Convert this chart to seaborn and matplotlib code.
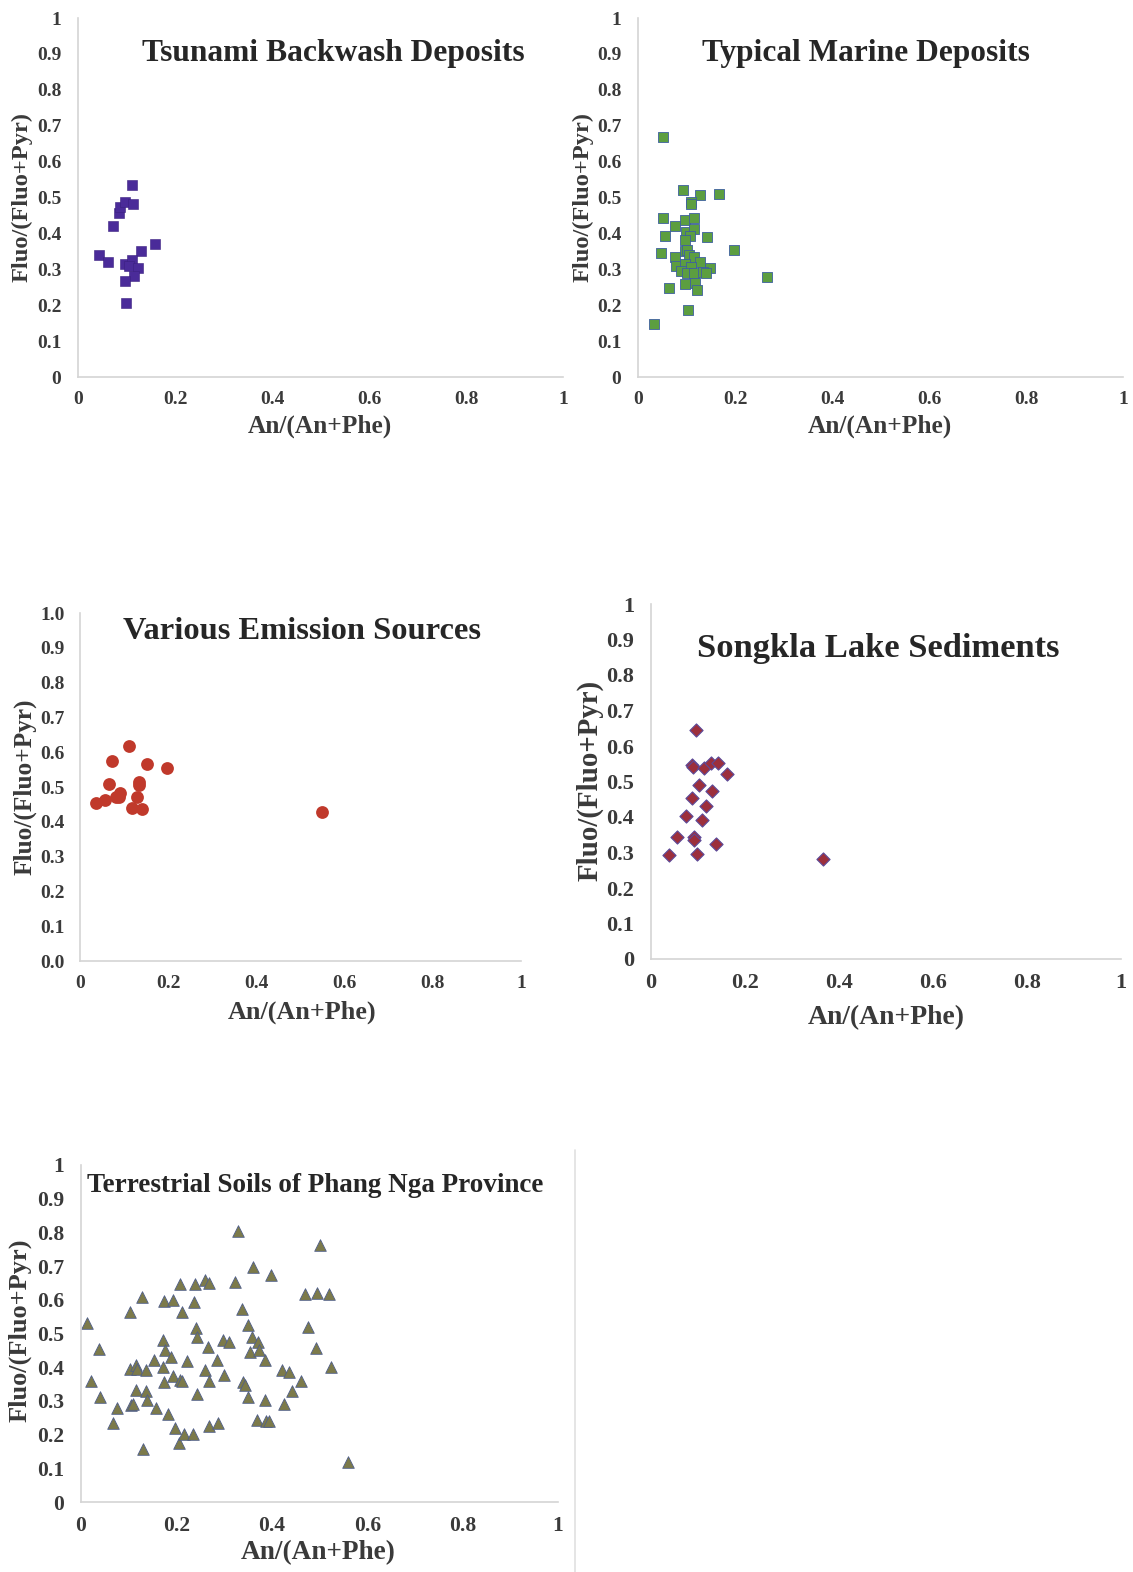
import matplotlib
matplotlib.use("Agg")
import matplotlib.pyplot as plt
import seaborn as sns
from matplotlib.lines import Line2D

sns.set_style("white")
plt.rcParams["font.family"] = ["Liberation Serif", "DejaVu Serif"]
plt.rcParams["font.weight"] = "bold"

# --- data ---
tsunami_x = [0.043, 0.062, 0.072, 0.085, 0.087, 0.097, 0.112, 0.114, 0.158, 0.130,
             0.097, 0.111, 0.105, 0.123, 0.116, 0.096, 0.099]
tsunami_y = [0.341, 0.320, 0.422, 0.457, 0.474, 0.487, 0.534, 0.482, 0.370, 0.352,
             0.315, 0.327, 0.308, 0.304, 0.282, 0.268, 0.206]

marine_x = [0.052, 0.092, 0.127, 0.166, 0.110, 0.109, 0.051, 0.096, 0.116, 0.076,
            0.098, 0.116, 0.107, 0.056, 0.096, 0.143, 0.047, 0.198, 0.096, 0.102,
            0.076, 0.105, 0.116, 0.128, 0.078, 0.096, 0.109, 0.148, 0.088, 0.102,
            0.116, 0.133, 0.140, 0.265, 0.064, 0.097, 0.118, 0.121, 0.103, 0.032]
marine_y = [0.669, 0.521, 0.507, 0.510, 0.488, 0.481, 0.444, 0.436, 0.444, 0.421,
            0.405, 0.413, 0.394, 0.394, 0.382, 0.391, 0.346, 0.354, 0.350, 0.354,
            0.333, 0.340, 0.333, 0.319, 0.309, 0.316, 0.307, 0.305, 0.295, 0.291,
            0.291, 0.293, 0.291, 0.279, 0.248, 0.260, 0.262, 0.242, 0.187, 0.149]

emission_x = [0.036, 0.057, 0.072, 0.066, 0.081, 0.090, 0.089, 0.110, 0.151, 0.198,
              0.134, 0.134, 0.129, 0.119, 0.140, 0.548]
emission_y = [0.455, 0.463, 0.574, 0.510, 0.472, 0.482, 0.472, 0.618, 0.566, 0.556,
              0.515, 0.505, 0.470, 0.439, 0.436, 0.427]

songkla_x = [0.095, 0.088, 0.090, 0.113, 0.127, 0.142, 0.161, 0.102, 0.129, 0.088,
             0.118, 0.074, 0.109, 0.056, 0.091, 0.092, 0.138, 0.038, 0.098, 0.365]
songkla_y = [0.646, 0.546, 0.540, 0.537, 0.553, 0.551, 0.522, 0.490, 0.473, 0.453,
             0.430, 0.403, 0.392, 0.345, 0.345, 0.334, 0.325, 0.292, 0.296, 0.282]

soils_x = [0.012, 0.021, 0.038, 0.040, 0.068, 0.075, 0.102, 0.102, 0.105, 0.110,
           0.116, 0.116, 0.117, 0.128, 0.131, 0.136, 0.136, 0.138, 0.153, 0.157,
           0.171, 0.171, 0.173, 0.173, 0.176, 0.182, 0.188, 0.192, 0.192, 0.197,
           0.206, 0.208, 0.208, 0.211, 0.211, 0.216, 0.223, 0.234, 0.236, 0.238,
           0.241, 0.243, 0.244, 0.261, 0.268, 0.267, 0.261, 0.268, 0.268, 0.288,
           0.285, 0.297, 0.311, 0.300, 0.323, 0.330, 0.338, 0.340, 0.344, 0.351,
           0.351, 0.354, 0.361, 0.358, 0.372, 0.374, 0.370, 0.386, 0.386, 0.387,
           0.395, 0.398, 0.421, 0.426, 0.437, 0.443, 0.461, 0.502, 0.470, 0.494,
           0.520, 0.476, 0.492, 0.525, 0.560]
soils_y = [0.532, 0.359, 0.453, 0.312, 0.233, 0.280, 0.564, 0.396, 0.287, 0.292,
           0.406, 0.332, 0.396, 0.609, 0.158, 0.393, 0.330, 0.304, 0.421, 0.280,
           0.401, 0.480, 0.597, 0.356, 0.450, 0.262, 0.431, 0.599, 0.374, 0.221,
           0.175, 0.646, 0.361, 0.564, 0.359, 0.201, 0.419, 0.203, 0.594, 0.646,
           0.515, 0.490, 0.320, 0.658, 0.649, 0.460, 0.393, 0.359, 0.225, 0.233,
           0.421, 0.480, 0.475, 0.376, 0.653, 0.805, 0.574, 0.356, 0.347, 0.525,
           0.312, 0.446, 0.698, 0.490, 0.475, 0.450, 0.243, 0.302, 0.421, 0.241,
           0.241, 0.673, 0.393, 0.292, 0.386, 0.330, 0.359, 0.762, 0.617, 0.621,
           0.617, 0.518, 0.457, 0.401, 0.119]

ticks = [0, 0.1, 0.2, 0.3, 0.4, 0.5, 0.6, 0.7, 0.8, 0.9, 1.0]
y_labels = ["0", "0.1", "0.2", "0.3", "0.4", "0.5", "0.6", "0.7", "0.8", "0.9", "1"]
y_labels_dec = ["0.0", "0.1", "0.2", "0.3", "0.4", "0.5", "0.6", "0.7", "0.8", "0.9", "1.0"]
x_ticks = [0, 0.2, 0.4, 0.6, 0.8, 1.0]
x_labels = ["0", "0.2", "0.4", "0.6", "0.8", "1"]

W, H = 1133, 1572
fig = plt.figure(figsize=(W / 100, H / 100), dpi=100)


def fx(x):
    return x / W


def fy(y):
    return 1 - y / H


def panel(left, top, w, h, ylabels, tick_fs, yticks_marks=False):
    ax = fig.add_axes([left / W, 1 - (top + h) / H, w / W, h / H])
    ax.set_xlim(0, 1)
    ax.set_ylim(0, 1)
    for s in ["top", "right"]:
        ax.spines[s].set_visible(False)
    for s in ["left", "bottom"]:
        ax.spines[s].set_color("#d4d4d4")
        ax.spines[s].set_linewidth(1.2)
    ax.set_xticks(x_ticks)
    ax.set_xticklabels(x_labels, fontsize=tick_fs, fontweight="bold", color="#3a3a3a")
    ax.set_yticks(ticks)
    ax.set_yticklabels(ylabels, fontsize=tick_fs, fontweight="bold", color="#3a3a3a")
    ax.tick_params(axis="x", length=0, pad=10)
    if yticks_marks:
        ax.tick_params(axis="y", length=5, color="#d4d4d4", width=1.2, pad=6)
    else:
        ax.tick_params(axis="y", length=0, pad=12)
    ax.set_xlabel("")
    ax.set_ylabel("")
    return ax


# panel 1
ax1 = panel(78, 18, 485, 359, y_labels, 14)
sns.scatterplot(x=tsunami_x, y=tsunami_y, ax=ax1, marker="s", s=50,
                color="#4a2b99", edgecolor="#3a2080", linewidth=0.4, legend=False)
ax1.set_xlim(0, 1); ax1.set_ylim(0, 1)

# panel 2
ax2 = panel(638, 18, 485, 359, y_labels, 14)
sns.scatterplot(x=marine_x, y=marine_y, ax=ax2, marker="s", s=50,
                color="#5c9e40", edgecolor="#3d5fa0", linewidth=0.6, legend=False)
ax2.set_xlim(0, 1); ax2.set_ylim(0, 1)

# panel 3
ax3 = panel(80, 613, 441, 348, y_labels_dec, 14, yticks_marks=True)
sns.scatterplot(x=emission_x, y=emission_y, ax=ax3, marker="o", s=85,
                color="#c0392b", edgecolor="#c0392b", linewidth=0, legend=False)
ax3.set_xlim(0, 1); ax3.set_ylim(0, 1)

# panel 4
ax4 = panel(651, 604, 470, 355, y_labels, 16)
sns.scatterplot(x=songkla_x, y=songkla_y, ax=ax4, marker="D", s=45,
                color="#9c2f3c", edgecolor="#5b4a9a", linewidth=0.8, legend=False)
ax4.set_xlim(0, 1); ax4.set_ylim(0, 1)

# panel 5
ax5 = panel(81, 1165, 477, 337, y_labels, 15.5)
sns.scatterplot(x=soils_x, y=soils_y, ax=ax5, marker="^", s=70,
                color="#7c7a4a", edgecolor="#4f5e8a", linewidth=0.6, legend=False)
ax5.set_xlim(0, 1); ax5.set_ylim(0, 1)

# titles
fig.text(fx(333), fy(53), "Tsunami Backwash Deposits", fontsize=22.7, fontweight="bold",
         ha="center", va="center")
fig.text(fx(866), fy(53), "Typical Marine Deposits", fontsize=22.6, fontweight="bold",
         ha="center", va="center")
fig.text(fx(302), fy(631), "Various Emission Sources", fontsize=23.4, fontweight="bold",
         ha="center", va="center")
fig.text(fx(878), fy(649), "Songkla Lake Sediments", fontsize=24.8, fontweight="bold",
         ha="center", va="center")
fig.text(fx(315), fy(1186), "Terrestrial Soils of Phang Nga Province", fontsize=19.5,
         fontweight="bold", ha="center", va="center")

# axis labels
lab = dict(fontweight="bold", color="#3a3a3a", ha="center", va="center")
fig.text(fx(22), fy(197), "Fluo/(Fluo+Pyr)", rotation=90, fontsize=17.6, **lab)
fig.text(fx(583), fy(197), "Fluo/(Fluo+Pyr)", rotation=90, fontsize=17.6, **lab)
fig.text(fx(25), fy(787), "Fluo/(Fluo+Pyr)", rotation=90, fontsize=18.2, **lab)
fig.text(fx(590), fy(780), "Fluo/(Fluo+Pyr)", rotation=90, fontsize=20.8, **lab)
fig.text(fx(20), fy(1330), "Fluo/(Fluo+Pyr)", rotation=90, fontsize=19, **lab)

fig.text(fx(320), fy(426), "An/(An+Phe)", fontsize=18.3, **lab)
fig.text(fx(880), fy(426), "An/(An+Phe)", fontsize=18.3, **lab)
fig.text(fx(302), fy(1012), "An/(An+Phe)", fontsize=18.8, **lab)
fig.text(fx(886), fy(1018), "An/(An+Phe)", fontsize=19.9, **lab)
fig.text(fx(318), fy(1553), "An/(An+Phe)", fontsize=19.6, **lab)

# thin frame edge to the right of the last panel
fig.add_artist(Line2D([fx(575), fx(575)], [fy(1150), fy(1572)], color="#e0e0e0", lw=1.2))

fig.savefig("out.png", dpi=100)
